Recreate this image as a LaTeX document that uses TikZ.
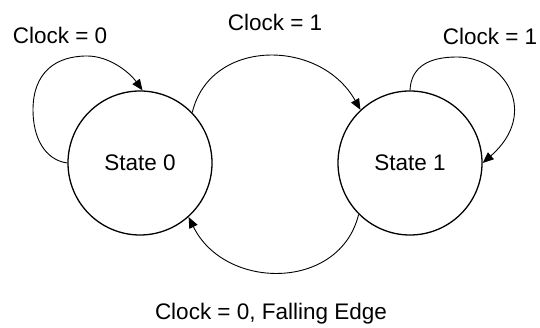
\documentclass[tikz,border=0pt]{standalone}
\usepackage{fontspec}
\setmainfont{Liberation Sans}
\usetikzlibrary{arrows.meta}
\begin{document}
\begin{tikzpicture}[x=1pt,y=1pt,
  state/.style={circle,draw,line width=1.3pt,minimum size=144pt,inner sep=0pt,font=\fontsize{22.5}{26}\selectfont},
  lbl/.style={font=\fontsize{22.5}{26}\selectfont,inner sep=0pt},
  conn/.style={line width=0.9pt,-{Triangle[length=11pt,width=9pt]}}]
\useasboundingbox (0,0) rectangle (540,328);
\node[state] (s0) at (140,165) {State 0};
\node[state] (s1) at (410,165) {State 1};
\node[lbl] (l0) at (60,293) {Clock = 0};
\node[lbl] (l1) at (275,306) {Clock = 1};
\node[lbl] (l2) at (490,292) {Clock = 1};
\node[lbl] (l3) at (271,14) {Clock = 0, Falling Edge};
\draw[conn] (s0.180) .. controls (45,168) and (33,190) .. (33,218)
  .. controls (33,255) and (55,272) .. (87,272)
  .. controls (110,272) and (130,255) .. (s0.88);
\draw[conn] (s1.90) .. controls (411,262) and (430,271) .. (457,271)
  .. controls (505,271) and (540,215) .. (s1.0);
\draw[conn] (s0.44) .. controls (210,290) and (320,290) .. (s1.133);
\draw[conn] (s1.225) .. controls (340,37) and (225,37) .. (s0.312);
\end{tikzpicture}
\end{document}
